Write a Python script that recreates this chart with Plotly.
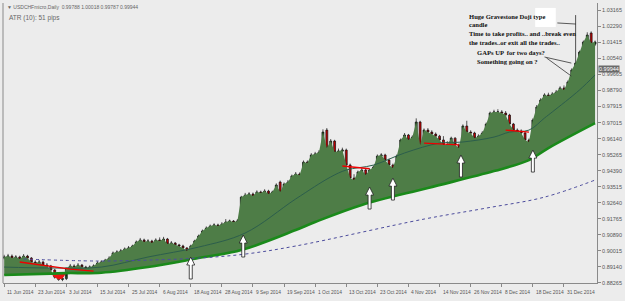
import plotly.graph_objects as go

# ---------------- data ----------------
x_tick_bars = [0, 8, 16, 24, 32, 40, 48, 56, 64, 72, 80, 88, 96, 104, 112, 120, 128, 136, 144]
x_tick_text = ["11 Jun 2014", "23 Jun 2014", "3 Jul 2014", "15 Jul 2014", "25 Jul 2014", "6 Aug 2014",
               "18 Aug 2014", "28 Aug 2014", "9 Sep 2014", "19 Sep 2014", "1 Oct 2014", "13 Oct 2014",
               "23 Oct 2014", "4 Nov 2014", "14 Nov 2014", "26 Nov 2014", "8 Dec 2014", "18 Dec 2014",
               "31 Dec 2014"]
y_tick_text = ["1.03165", "1.02290", "1.01415", "1.00540", "0.99665", "0.98790", "0.97915", "0.97015",
               "0.96140", "0.95265", "0.94390", "0.93515", "0.92640", "0.91765", "0.90890", "0.90015",
               "0.89140", "0.88265"]

opens = [0.8962,0.8968,0.8973,0.8962,0.8968,0.8957,0.8973,0.8962,0.8940,0.8935,
         0.8940,0.8924,0.8919,0.8897,0.8858,0.8845,0.8850,0.8908,0.8919,0.8913,
         0.8924,0.8913,0.8908,0.8913,0.8919,0.8935,0.8940,0.8951,0.8962,0.8990,
         0.8995,0.9001,0.9012,0.9017,0.9028,0.9050,0.9061,0.9050,0.9055,0.9044,
         0.9061,0.9055,0.9066,0.9039,0.9044,0.9034,0.9028,0.9017,0.9001,0.9028,
         0.9055,0.9082,0.9110,0.9126,0.9137,0.9143,0.9137,0.9148,0.9159,0.9164,
         0.9159,0.9164,0.9295,0.9306,0.9312,0.9301,0.9323,0.9317,0.9328,0.9312,
         0.9323,0.9377,0.9323,0.9366,0.9377,0.9410,0.9421,0.9415,0.9486,0.9481,
         0.9525,0.9530,0.9530,0.9661,0.9563,0.9601,0.9541,0.9546,0.9552,0.9470,
         0.9399,0.9388,0.9432,0.9443,0.9416,0.9443,0.9459,0.9519,0.9525,0.9497,
         0.9470,0.9454,0.9519,0.9607,0.9634,0.9607,0.9623,0.9705,0.9580,0.9661,
         0.9650,0.9639,0.9628,0.9607,0.9580,0.9580,0.9617,0.9580,0.9563,0.9683,
         0.9650,0.9645,0.9617,0.9628,0.9645,0.9694,0.9754,0.9760,0.9760,0.9754,
         0.9743,0.9694,0.9661,0.9656,0.9645,0.9607,0.9596,0.9716,0.9787,0.9825,
         0.9853,0.9847,0.9858,0.9869,0.9891,0.9880,0.9945,1.0005,1.0043,1.0087,
         1.0142,1.0191,1.0130]
highs = [0.8980,0.8985,0.8982,0.8978,0.8975,0.8984,0.8980,0.8968,0.8950,0.8952,
         0.8948,0.8935,0.8925,0.8902,0.8866,0.8860,0.8862,0.8930,0.8928,0.8935,
         0.8930,0.8920,0.8922,0.8928,0.8945,0.8950,0.8958,0.8972,0.8998,0.9005,
         0.9012,0.9020,0.9028,0.9035,0.9058,0.9072,0.9068,0.9065,0.9062,0.9070,
         0.9075,0.9078,0.9072,0.9055,0.9050,0.9040,0.9035,0.9022,0.9035,0.9062,
         0.9090,0.9118,0.9135,0.9145,0.9152,0.9150,0.9158,0.9175,0.9172,0.9170,
         0.9175,0.9302,0.9318,0.9322,0.9320,0.9332,0.9330,0.9338,0.9335,0.9330,
         0.9370,0.9385,0.9375,0.9388,0.9418,0.9432,0.9430,0.9495,0.9495,0.9535,
         0.9542,0.9552,0.9665,0.9672,0.9612,0.9608,0.9560,0.9565,0.9560,0.9478,
         0.9420,0.9440,0.9455,0.9450,0.9452,0.9468,0.9528,0.9535,0.9532,0.9505,
         0.9478,0.9528,0.9615,0.9645,0.9640,0.9632,0.9725,0.9712,0.9670,0.9672,
         0.9660,0.9648,0.9635,0.9628,0.9600,0.9625,0.9622,0.9588,0.9692,0.9712,
         0.9660,0.9652,0.9638,0.9655,0.9702,0.9762,0.9772,0.9775,0.9770,0.9765,
         0.9750,0.9700,0.9670,0.9665,0.9652,0.9615,0.9725,0.9798,0.9835,0.9862,
         0.9865,0.9868,0.9880,0.9900,0.9905,0.9932,0.9998,1.0289,1.0095,1.0150,
         1.0195,1.0200,1.0150]
lows = [0.8955,0.8960,0.8955,0.8952,0.8948,0.8950,0.8955,0.8932,0.8925,0.8928,
        0.8915,0.8905,0.8890,0.8850,0.8838,0.8836,0.8842,0.8900,0.8905,0.8908,
        0.8905,0.8900,0.8902,0.8908,0.8912,0.8928,0.8932,0.8945,0.8955,0.8982,
        0.8988,0.8995,0.9005,0.9010,0.9020,0.9042,0.9042,0.9043,0.9038,0.9040,
        0.9048,0.9050,0.9032,0.9030,0.9028,0.9020,0.9010,0.8990,0.8995,0.9022,
        0.9050,0.9075,0.9102,0.9120,0.9130,0.9128,0.9132,0.9142,0.9152,0.9150,
        0.9152,0.9158,0.9288,0.9298,0.9292,0.9295,0.9308,0.9310,0.9305,0.9305,
        0.9318,0.9315,0.9318,0.9360,0.9370,0.9402,0.9405,0.9410,0.9472,0.9475,
        0.9518,0.9522,0.9525,0.9555,0.9555,0.9532,0.9535,0.9538,0.9462,0.9385,
        0.9340,0.9380,0.9425,0.9408,0.9410,0.9435,0.9452,0.9510,0.9490,0.9462,
        0.9440,0.9448,0.9512,0.9600,0.9598,0.9600,0.9615,0.9570,0.9572,0.9642,
        0.9630,0.9620,0.9598,0.9570,0.9565,0.9572,0.9570,0.9550,0.9555,0.9642,
        0.9638,0.9610,0.9608,0.9620,0.9640,0.9688,0.9745,0.9748,0.9745,0.9735,
        0.9688,0.9652,0.9648,0.9638,0.9598,0.9585,0.9590,0.9710,0.9780,0.9818,
        0.9838,0.9840,0.9850,0.9862,0.9872,0.9875,0.9940,1.0000,1.0038,1.0080,
        1.0135,1.0128,1.0120]
closes = [0.8968,0.8973,0.8962,0.8968,0.8957,0.8973,0.8962,0.8940,0.8935,0.8940,
          0.8924,0.8919,0.8897,0.8858,0.8845,0.8850,0.8908,0.8919,0.8913,0.8924,
          0.8913,0.8908,0.8913,0.8919,0.8935,0.8940,0.8951,0.8962,0.8990,0.8995,
          0.9001,0.9012,0.9017,0.9028,0.9050,0.9061,0.9050,0.9055,0.9044,0.9061,
          0.9055,0.9066,0.9039,0.9044,0.9034,0.9028,0.9017,0.9001,0.9028,0.9055,
          0.9082,0.9110,0.9126,0.9137,0.9143,0.9137,0.9148,0.9159,0.9164,0.9159,
          0.9164,0.9295,0.9306,0.9312,0.9301,0.9323,0.9317,0.9328,0.9312,0.9323,
          0.9361,0.9323,0.9366,0.9377,0.9410,0.9421,0.9415,0.9486,0.9481,0.9525,
          0.9530,0.9541,0.9650,0.9563,0.9601,0.9541,0.9546,0.9552,0.9470,0.9399,
          0.9388,0.9432,0.9443,0.9416,0.9443,0.9459,0.9519,0.9525,0.9497,0.9470,
          0.9454,0.9519,0.9607,0.9634,0.9607,0.9623,0.9705,0.9580,0.9661,0.9650,
          0.9639,0.9628,0.9607,0.9580,0.9580,0.9617,0.9580,0.9563,0.9683,0.9650,
          0.9645,0.9617,0.9628,0.9645,0.9694,0.9754,0.9760,0.9760,0.9754,0.9743,
          0.9694,0.9661,0.9656,0.9645,0.9607,0.9596,0.9716,0.9787,0.9825,0.9853,
          0.9847,0.9858,0.9869,0.9891,0.9880,0.9923,0.9989,1.0027,1.0087,1.0142,
          1.0180,1.0136,1.0142]
bars = list(range(len(closes)))

fast_ma_bar = [0, 12, 25, 37, 50, 62, 75, 84, 88, 95, 103, 112, 118, 126, 130, 135, 139, 141, 148, 152]
fast_ma_val = [0.8913, 0.8908, 0.8913, 0.8968, 0.9022, 0.9099, 0.9285, 0.9405, 0.9443, 0.9470,
               0.9536, 0.9590, 0.9596, 0.9623, 0.9650, 0.9661, 0.9727, 0.9760, 0.9880, 0.9962]
slow_ma_bar = [0, 12, 16, 25, 37, 50, 61, 75, 80, 92, 109, 126, 135, 140, 152]
slow_ma_val = [0.8870, 0.8877, 0.8880, 0.8882, 0.8913, 0.8962, 0.9006, 0.9115, 0.9159, 0.9252,
               0.9345, 0.9437, 0.9497, 0.9563, 0.9699]
long_ma_bar = [5, 24, 37, 50, 62, 75, 108, 124, 139, 152]
long_ma_val = [0.8957, 0.8946, 0.8951, 0.8962, 0.8984, 0.9028, 0.9175, 0.9235, 0.9295, 0.9388]
red_line_bar = [4, 12, 17, 23, None, 87, 94, None, 108, 117, None, 129, 135]
red_line_val = [0.8941, 0.8919, 0.8902, 0.8891, None, 0.9465, 0.9450, None, 0.9590, 0.9580, None, 0.9661, 0.9650]
arrow_bar = [48, 61.5, 94, 100, 117.5, 136]
arrow_tip = [0.8968, 0.9088, 0.9350, 0.9399, 0.9525, 0.9552]
current_price = 0.99944

note_lines = ["Huge Gravestone Doji type", "candle", "Time to take profits.. and ..break even",
              "the trades..or exit all the trades..", "GAPs UP  for two days?", "Something going on ?"]

# ---------------- figure ----------------
fig = go.Figure()

fig.add_trace(go.Scatter(x=slow_ma_bar, y=slow_ma_val, mode="lines", line=dict(width=0, shape="spline"),
                         hoverinfo="skip", showlegend=False))
fig.add_trace(go.Scatter(x=bars, y=closes, mode="lines", line=dict(width=0), fill="tonexty",
                         fillcolor="#4e7d47", hoverinfo="skip", showlegend=False))
i12, i16 = slow_ma_bar.index(12), slow_ma_bar.index(16)
fig.add_trace(go.Scatter(x=[12, 13, 14, 15, 16],
                         y=[slow_ma_val[i12], closes[13], closes[14], closes[15], slow_ma_val[i16]],
                         mode="lines", line=dict(width=0), fill="toself", fillcolor="#ee1111",
                         hoverinfo="skip", showlegend=False))
fig.add_trace(go.Scatter(x=fast_ma_bar, y=fast_ma_val, mode="lines",
                         line=dict(color="#2c5e4c", width=1, shape="spline"), hoverinfo="skip", showlegend=False))
fig.add_trace(go.Scatter(x=slow_ma_bar, y=slow_ma_val, mode="lines",
                         line=dict(color="#1a8a1a", width=2.6, shape="spline"), hoverinfo="skip", showlegend=False))
fig.add_trace(go.Scatter(x=long_ma_bar, y=long_ma_val, mode="lines",
                         line=dict(color="#4b4b9c", width=1, dash="dot", shape="spline"), hoverinfo="skip", showlegend=False))
fig.add_trace(go.Scatter(x=red_line_bar, y=red_line_val, mode="lines", connectgaps=False,
                         line=dict(color="#ee0000", width=1.4), hoverinfo="skip", showlegend=False))
fig.add_trace(go.Candlestick(x=bars, open=opens, high=highs, low=lows, close=closes,
                             increasing=dict(fillcolor="#245a22", line=dict(color="#101010", width=0.7)),
                             decreasing=dict(fillcolor="#c80000", line=dict(color="#101010", width=0.7)),
                             hoverinfo="skip", showlegend=False))

shapes = []
arrow_path = "M0,0 L4,-8 L1.5,-8 L1.5,-22 L-1.5,-22 L-1.5,-8 L-4,-8 Z"
for b, p in zip(arrow_bar, arrow_tip):
    shapes.append(dict(type="path", xref="x", yref="y", xsizemode="pixel", ysizemode="pixel",
                       xanchor=b, yanchor=p, path=arrow_path, fillcolor="white",
                       line=dict(color="#222", width=0.8), layer="above"))
shapes.append(dict(type="line", xref="paper", yref="paper", x0=0, x1=0, y0=0, y1=1,
                   line=dict(color="#8a8a8a", width=1)))
shapes.append(dict(type="rect", xref="x", yref="y", x0=136.6, x1=141.9, y0=1.0224, y1=1.0328,
                   fillcolor="white", line=dict(width=0), layer="above"))
shapes.append(dict(type="line", xref="x", yref="y", x0=142.3, y0=1.0246, x1=147.1, y1=1.0240,
                   line=dict(color="#333", width=0.8), layer="above"))
shapes.append(dict(type="line", xref="x", yref="y", x0=139.0, y0=1.0060, x1=145.9, y1=1.0027,
                   line=dict(color="#333", width=0.8), layer="above"))
shapes.append(dict(type="line", xref="x", yref="y", x0=139.5, y0=1.0055, x1=145.9, y1=0.9956,
                   line=dict(color="#333", width=0.8), layer="above"))

ann_font = dict(family="Liberation Serif", size=6.6, color="#111")
note_x = [119.1, 119.1, 119.1, 119.1, 121.2, 121.2]
note_y = [1.0284, 1.0240, 1.0191, 1.0142, 1.0082, 1.0038]
annotations = []
for t, nx, ny in zip(note_lines, note_x, note_y):
    annotations.append(dict(x=nx, y=ny, xref="x", yref="y", xanchor="left", yanchor="middle",
                            text="<b>" + t + "</b>", showarrow=False, font=ann_font))
annotations += [
    dict(x=0.004, y=1.0, xref="paper", yref="paper", xanchor="left", yanchor="top", yshift=1,
         text="▼ USDCHFmicro,Daily  0.99788 1.00018 0.99787 0.99944", showarrow=False,
         font=dict(family="Liberation Sans", size=5, color="#666")),
    dict(x=0.006, y=1.0, xref="paper", yref="paper", xanchor="left", yanchor="top", yshift=-9,
         text="ATR (10): 51 pips", showarrow=False,
         font=dict(family="Liberation Sans", size=6.5, color="#666")),
    dict(x=1.0, y=current_price, xref="paper", yref="y", xanchor="left", yanchor="middle", xshift=1,
         text="0.99944", showarrow=False, bgcolor="#6a6a6a", borderpad=0,
         font=dict(family="Liberation Sans", size=5.5, color="white")),
]
for b, t in zip(x_tick_bars, x_tick_text):
    annotations.append(dict(x=b, y=0, xref="x", yref="paper", xanchor="left", yanchor="top",
                            xshift=1, yshift=-5, text=t, showarrow=False,
                            font=dict(family="Liberation Sans", size=4.9, color="#555")))

fig.update_layout(
    width=625, height=301,
    margin=dict(l=3, r=22, t=3, b=18),
    paper_bgcolor="#ececec", plot_bgcolor="#ececec",
    showlegend=False,
    shapes=shapes, annotations=annotations,
    xaxis=dict(range=[-0.3, 152.5], rangeslider=dict(visible=False), showgrid=False, zeroline=False,
               tickmode="array", tickvals=x_tick_bars, ticktext=[""] * len(x_tick_bars),
               ticks="outside", ticklen=3, tickcolor="#888", showline=True, linecolor="#8a8a8a", linewidth=1),
    yaxis=dict(range=[0.8826, 1.0355], side="right", showgrid=False, zeroline=False,
               tickmode="array", tickvals=[float(t) for t in y_tick_text], ticktext=y_tick_text,
               ticks="outside", ticklen=3, tickcolor="#888", showline=True, linecolor="#8a8a8a", linewidth=1,
               tickfont=dict(family="Liberation Sans", size=5.5, color="#555")),
)

fig.write_html("out.html")
